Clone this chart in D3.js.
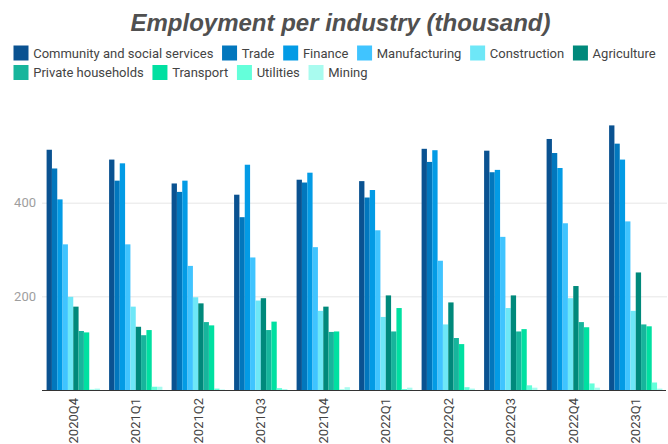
<!DOCTYPE html>
<html>
<head>
<meta charset="utf-8">
<script src="https://cdn.jsdelivr.net/npm/d3@7"></script>
<style>
  html, body { margin: 0; padding: 0; background: #fff; }
  svg { display: block; }
</style>
</head>
<body>
<svg id="chart" width="668" height="444"></svg>
<script>
// Quarterly employment by industry, in thousands
const quarters = ["2020Q4","2021Q1","2021Q2","2021Q3","2021Q4","2022Q1","2022Q2","2022Q3","2022Q4","2023Q1"];
const industries = ["Community and social services","Trade","Finance","Manufacturing","Construction","Agriculture","Private households","Transport","Utilities","Mining"];
const community     = [513, 492, 441, 417, 449, 446, 515, 511, 536, 565];
const trade         = [473, 447, 423, 369, 443, 411, 487, 465, 506, 526];
const finance       = [407, 484, 447, 481, 464, 427, 512, 470, 474, 492];
const manufacturing = [311, 311, 265, 283, 305, 341, 276, 327, 356, 360];
const construction  = [199, 178, 198, 191, 169, 156, 140, 175, 196, 169];
const agriculture   = [178, 135, 185, 196, 178, 202, 187, 202, 222, 251];
const households    = [126, 117, 145, 128, 124, 125, 111, 125, 145, 140];
const transport     = [123, 128, 138, 146, 125, 175,  98, 130, 134, 136];
const utilities     = [  1,   7,   3,   4,   1,   2,   6,  10,  14,  16];
const mining        = [  3,   7,   1,   2,   6,   5,   3,   5,   5,   3];
const yTicks = [200, 400];
const colors = ["#0a5291","#0277bd","#039be5","#40c4ff","#6ee7f7","#00897b","#17b59c","#00e0a1","#64ffda","#a9fbef"];

const seriesValues = [community, trade, finance, manufacturing, construction, agriculture, households, transport, utilities, mining];
const rows = quarters.map((q, i) => ({
  quarter: q,
  values: industries.map((name, k) => ({ name, value: seriesValues[k][i] }))
}));

const svg = d3.select("#chart");
const plot = { left: 42, right: 667, top: 109, bottom: 390 };

const x0 = d3.scaleBand().domain(quarters).range([plot.left, plot.right])
  .paddingInner(0.147).paddingOuter(0.0735);
const x1 = d3.scaleBand().domain(industries).range([0, x0.bandwidth()]);
const y = d3.scaleLinear().domain([0, 600]).range([plot.bottom, plot.top]);
const color = d3.scaleOrdinal().domain(industries).range(colors);

// Title
svg.append("text")
  .attr("x", 340.5).attr("y", 31)
  .attr("text-anchor", "middle")
  .style("font-family", "'Liberation Sans', Arial, sans-serif")
  .style("font-size", "24px").style("font-weight", "bold").style("font-style", "italic")
  .attr("fill", "#505050")
  .text("Employment per industry (thousand)");

// Legend, flowing into rows
const legend = svg.append("g").attr("class", "legend");
let lx = 13.5, ly = 45.5;
const sw = 15, rowH = 19.5, maxX = 666;
industries.forEach((name) => {
  const g = legend.append("g");
  const t = g.append("text")
    .style("font-family", "Roboto, sans-serif").style("font-size", "13px")
    .attr("fill", "#444").text(name);
  const w = t.node().getComputedTextLength();
  if (lx + sw + 5 + w > maxX) { lx = 13.5; ly += rowH; }
  g.attr("transform", `translate(${lx},${ly})`);
  g.insert("rect", "text").attr("width", sw).attr("height", sw).attr("fill", color(name));
  t.attr("x", sw + 4.7).attr("y", sw / 2).attr("dy", "0.35em");
  lx += sw + 4.7 + w + 8.7;
});

// Gridlines and y labels
const yAxis = d3.axisLeft(y).tickValues(yTicks).tickSize(-(plot.right - plot.left)).tickPadding(6);
const yg = svg.append("g").attr("transform", `translate(${plot.left},0)`).call(yAxis);
yg.select(".domain").remove();
yg.selectAll(".tick line").attr("stroke", "#e6e6e6");
yg.selectAll(".tick text")
  .style("font-family", "Roboto, sans-serif").style("font-size", "13px")
  .attr("fill", "#9e9e9e");

// Bars
const groups = svg.append("g").selectAll("g").data(rows).join("g")
  .attr("transform", d => `translate(${x0(d.quarter)},0)`);
groups.selectAll("rect").data(d => d.values).join("rect")
  .attr("x", d => x1(d.name))
  .attr("width", x1.bandwidth())
  .attr("y", d => y(d.value))
  .attr("height", d => y(0) - y(d.value))
  .attr("fill", d => color(d.name));

// Baseline and category labels
const xAxis = d3.axisBottom(x0).tickSize(0).tickPadding(0);
const xg = svg.append("g").attr("transform", `translate(0,${plot.bottom})`).call(xAxis);
xg.select(".domain").attr("stroke", "#333").attr("d", `M${plot.left},0.5H${plot.right - 1}`);
xg.selectAll(".tick text")
  .style("font-family", "Roboto, sans-serif").style("font-size", "13px")
  .attr("fill", "#444")
  .attr("text-anchor", "end")
  .attr("transform", "translate(0,8) rotate(-90)")
  .attr("x", 0).attr("y", 0).attr("dy", "0.35em");
</script>
</body>
</html>
